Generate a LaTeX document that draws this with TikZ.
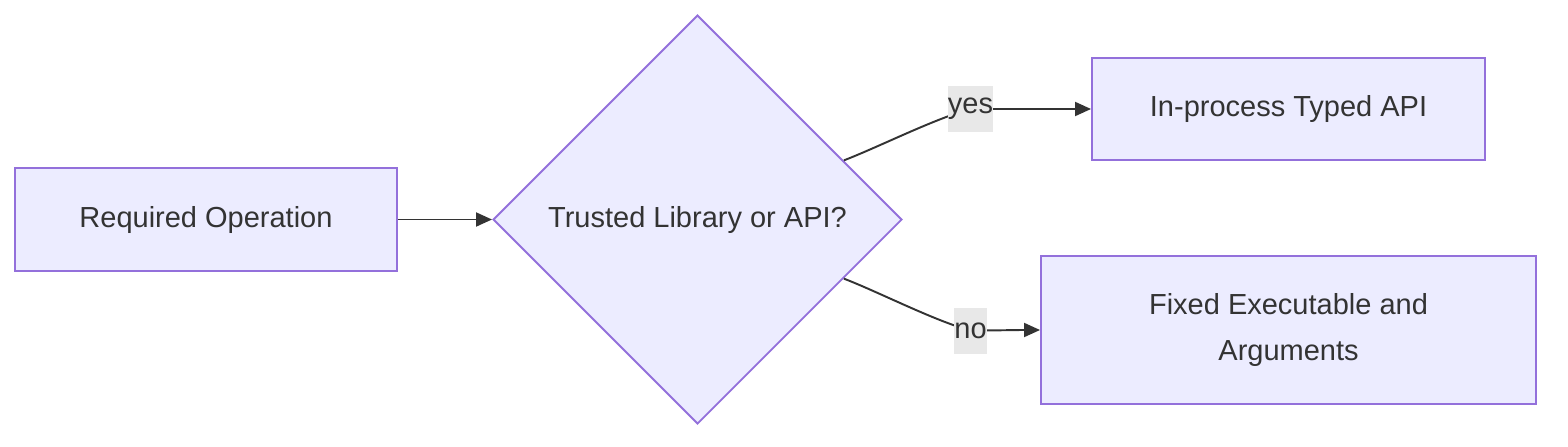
\documentclass[tikz,border=0pt]{standalone}
\usepackage{fontspec}
\setmainfont{Liberation Sans}
\usetikzlibrary{shapes.geometric,arrows.meta}
\definecolor{nodefill}{HTML}{ECECFF}
\definecolor{nodeline}{HTML}{9370DB}
\definecolor{textcol}{HTML}{333333}
\definecolor{lblfill}{HTML}{E8E8E8}
\tikzset{
  caja/.style={draw=nodeline, fill=nodefill, line width=1.1pt, text=textcol, inner sep=0pt},
  rombo/.style={caja, diamond, aspect=1, minimum width=8.18cm, minimum height=8.18cm},
  flecha/.style={draw=textcol, line width=1.1pt, -{Triangle[length=0.32cm,width=0.28cm]}},
  etiqueta/.style={fill=lblfill, text=textcol, inner xsep=0pt, inner ysep=0pt, minimum height=0.92cm}
}
\begin{document}
\begin{tikzpicture}[font=\fontsize{16.5}{26.6}\selectfont]%Elección de la operación
        \useasboundingbox (0,0) rectangle (31.36,-8.92);

        \node[caja, minimum width=7.64cm, minimum height=2.06cm] (req) at (4.12,-4.39) {Required Operation};
        \node[rombo] (dec) at (13.95,-4.39) {Trusted Library or API?};
        \node[caja, minimum width=7.86cm, minimum height=2.04cm] (api) at (25.77,-2.18) {In-process Typed API};
        \node[caja, minimum width=9.9cm, minimum height=2.96cm, align=center] (exe) at (25.77,-6.6) {Fixed Executable and\\Arguments};

        \coordinate (yes) at (19.41,-2.18);
        \coordinate (no) at (19.41,-6.61);

        \draw[flecha] (req) -- (dec);
        \draw[flecha] (dec.22) to[out=21,in=195,looseness=0.7] (yes) to[out=0,in=180] (api.west);
        \draw[flecha] (dec.-22) to[out=-21,in=165,looseness=0.7] (no) to[out=0,in=180] (exe.west);

        \node[etiqueta] at (yes) {yes};
        \node[etiqueta] at (no) {no};
    \end{tikzpicture}
\end{document}
